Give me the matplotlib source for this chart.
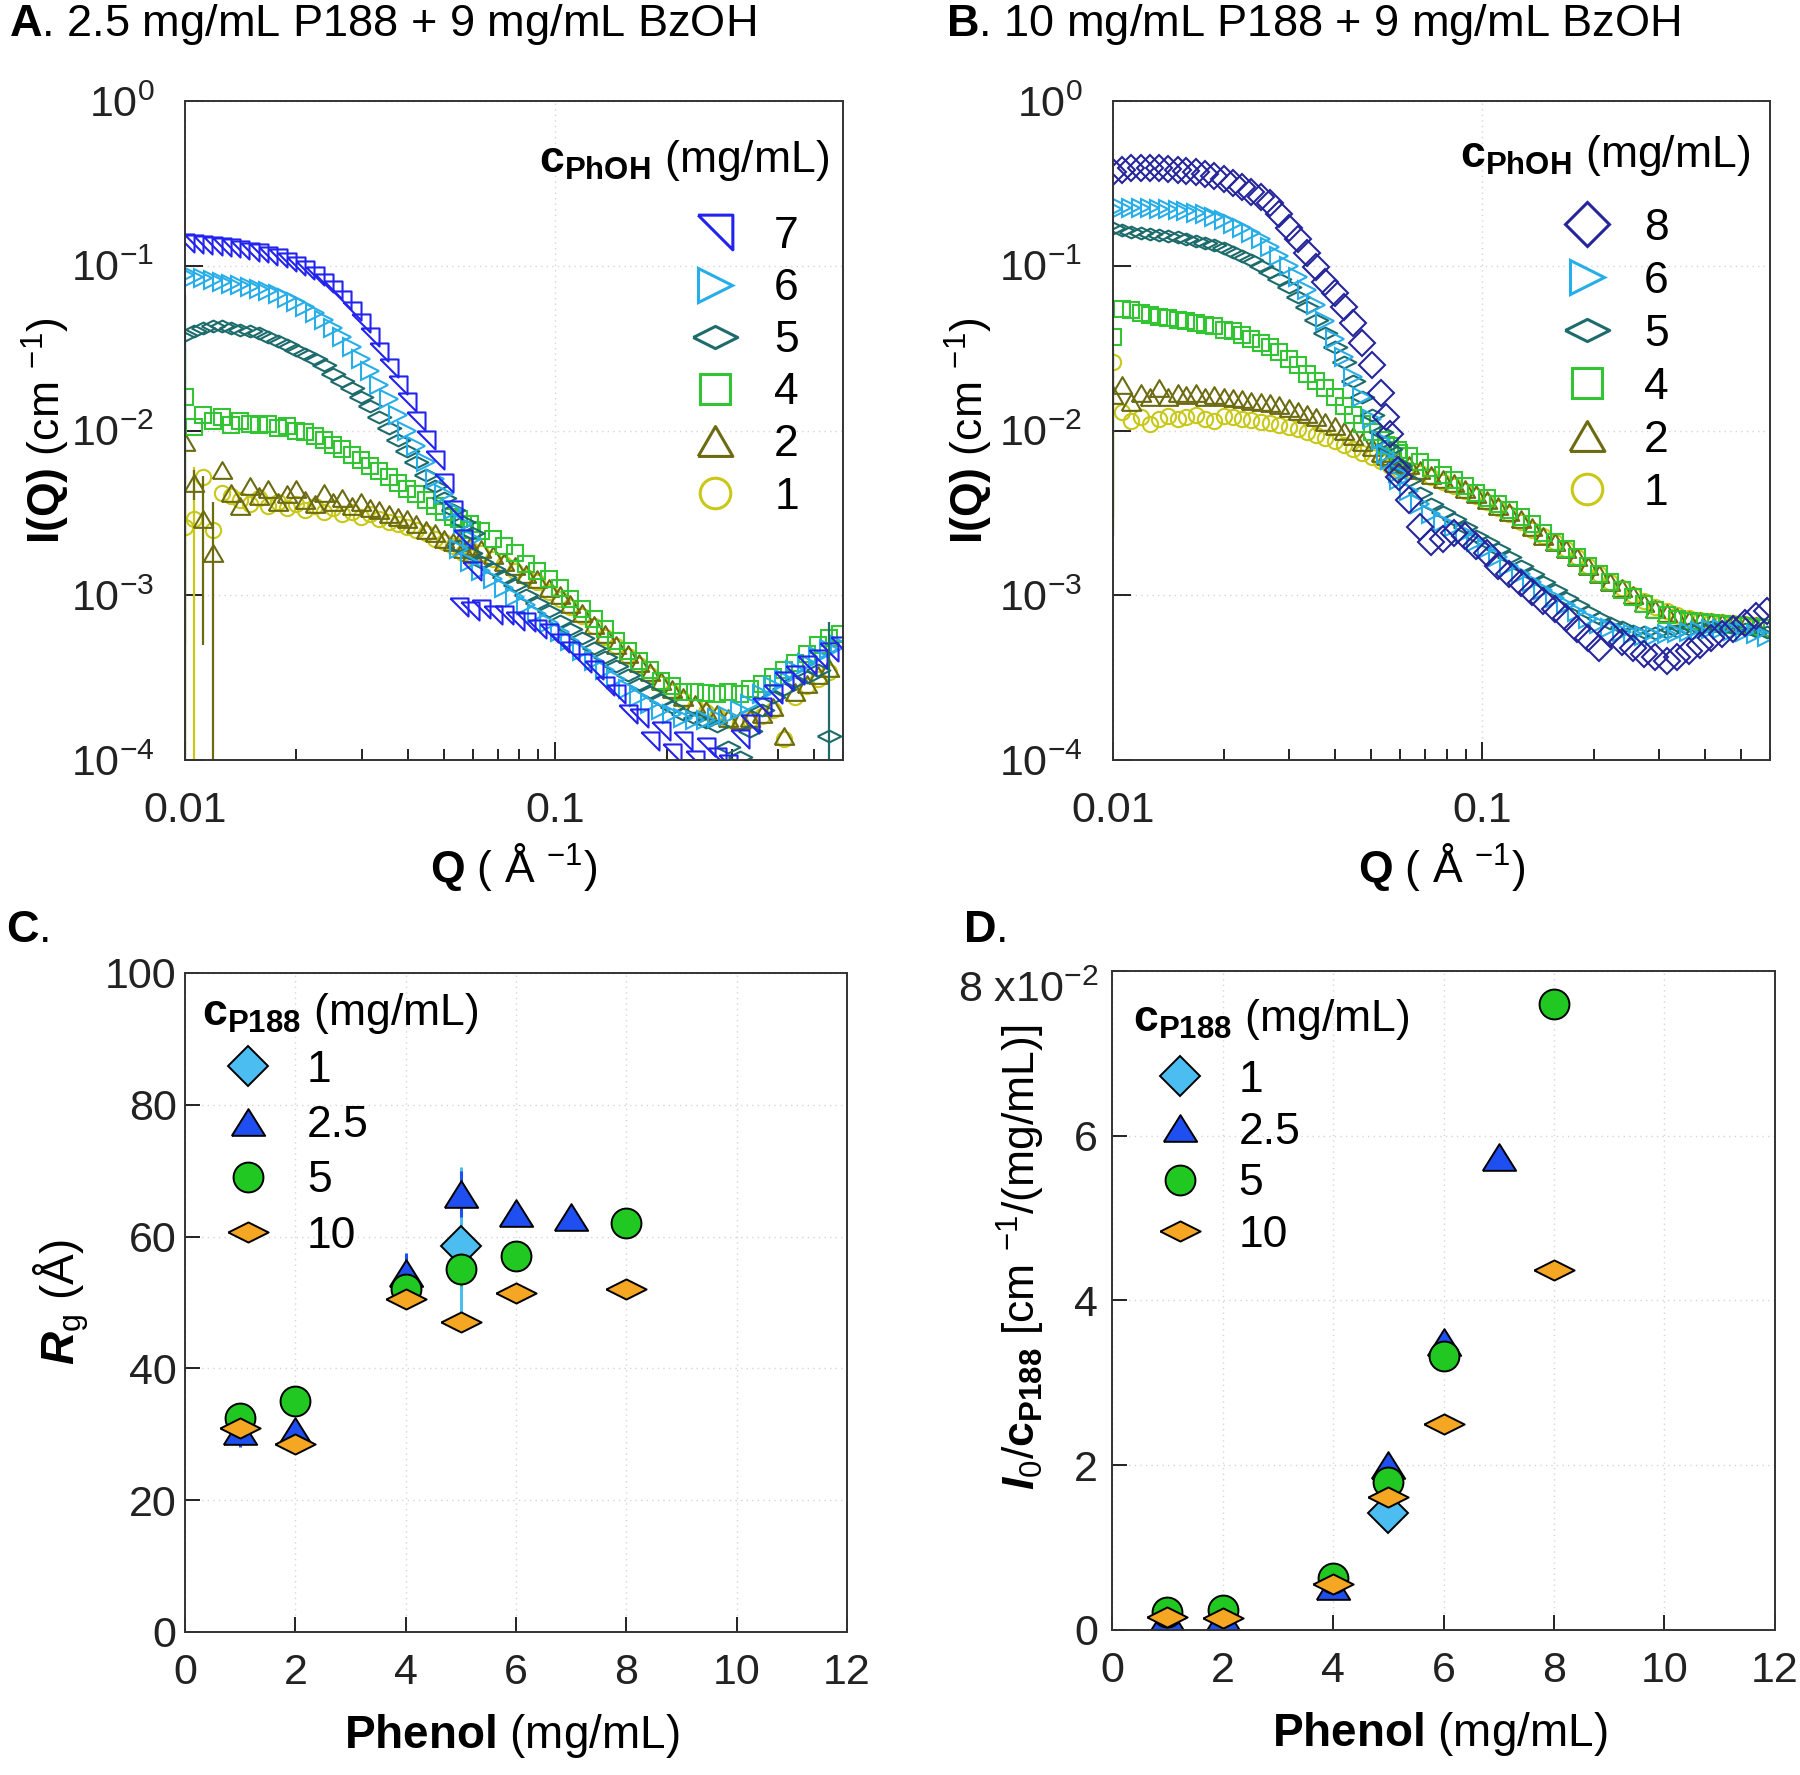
import numpy as np
import matplotlib
matplotlib.use('Agg')
import matplotlib.pyplot as plt
from matplotlib.lines import Line2D
from matplotlib.ticker import FixedLocator, FixedFormatter, NullLocator, LogLocator, NullFormatter

plt.rcParams['font.family'] = 'Liberation Sans'
plt.rcParams['mathtext.fontset'] = 'custom'
plt.rcParams['mathtext.rm'] = 'Liberation Sans'
plt.rcParams['mathtext.it'] = 'Liberation Sans:italic'
plt.rcParams['mathtext.bf'] = 'Liberation Sans:bold'
try:
    plt.rcParams['mathtext.bfit'] = 'Liberation Sans:italic:bold'
except KeyError:
    pass

# ---- SANS data ----
Q_LO = [0.0100, 0.0106, 0.0112, 0.0119, 0.0126, 0.0133, 0.0141, 0.0150, 0.0158, 0.0168,
        0.0178, 0.0188, 0.0200, 0.0211, 0.0224, 0.0237, 0.0251, 0.0266, 0.0282, 0.0299,
        0.0316, 0.0335, 0.0355, 0.0376, 0.0398, 0.0422, 0.0447, 0.0473, 0.0501, 0.0531,
        0.0562, 0.0596]
Q_HI = [0.0550, 0.0590, 0.0632, 0.0678, 0.0727, 0.0780, 0.0836, 0.0896, 0.0961, 0.1030,
        0.1100, 0.1180, 0.1270, 0.1360, 0.1460, 0.1570, 0.1680, 0.1800, 0.1930, 0.2070,
        0.2220, 0.2380, 0.2550, 0.2740, 0.2930, 0.3150, 0.3370, 0.3620, 0.3880, 0.4160,
        0.4460, 0.4780, 0.5130, 0.5500, 0.5900]
nan = np.nan

# panel A: 2.5 mg/mL P188
a7_lo = [0.138, 0.136, 0.134, 0.132, 0.130, 0.128, 0.125, 0.122, 0.119, 0.115, 0.111, 0.106,
         0.100, 0.094, 0.087, 0.079, 0.071, 0.062, 0.053, 0.045, 0.037, 0.030, 0.024, 0.019,
         0.015, 0.0115, 0.0088, 0.0066, 0.0048, 0.0033, 0.0022, 0.0014]
a7_hi = [8.5e-4, 8.0e-4, 8.2e-4, 7.6e-4, 7.6e-4, 7.0e-4, 6.9e-4, 6.2e-4, 5.9e-4, 5.1e-4,
         4.6e-4, 3.9e-4, 3.5e-4, 2.8e-4, 2.5e-4, 1.9e-4, 1.8e-4, 1.3e-4, 1.5e-4, 1.1e-4,
         1.3e-4, 1.0e-4, 1.2e-4, 1.05e-4, 0.95e-4, 1.35e-4, 1.65e-4, 2.1e-4, 2.5e-4, 3.0e-4,
         3.3e-4, 3.8e-4, 4.1e-4, 4.5e-4, 4.9e-4]
a6_lo = [0.088, 0.086, 0.084, 0.082, 0.080, 0.078, 0.076, 0.074, 0.072, 0.070, 0.067, 0.064,
         0.060, 0.056, 0.052, 0.047, 0.042, 0.037, 0.032, 0.027, 0.023, 0.019, 0.0155, 0.0125,
         0.0100, 0.0080, 0.0064, 0.0051, 0.0041, 0.0033, 0.0027, 0.0022]
a6_hi = [1.9e-3, 1.6e-3, 1.4e-3, 1.25e-3, 1.1e-3, 9.8e-4, 8.7e-4, 7.7e-4, 6.8e-4, 6.0e-4,
         5.3e-4, 4.6e-4, 4.0e-4, 3.5e-4, 3.1e-4, 2.7e-4, 2.4e-4, 2.2e-4, 2.0e-4, 1.9e-4,
         1.8e-4, 1.75e-4, 1.75e-4, 1.8e-4, 1.85e-4, 2.0e-4, 2.2e-4, 2.5e-4, 2.8e-4, 3.1e-4,
         3.5e-4, 3.9e-4, 4.3e-4, 4.7e-4, 5.0e-4]
a5_lo = [0.038, 0.040, 0.042, 0.043, 0.043, 0.042, 0.041, 0.040, 0.039, 0.037, 0.035, 0.033,
         0.031, 0.029, 0.027, 0.025, 0.022, 0.020, 0.018, 0.016, 0.014, 0.012, 0.0103, 0.0088,
         0.0075, 0.0064, 0.0054, 0.0046, 0.0039, 0.0033, 0.0028, 0.0024]
a5_hi = [2.0e-3, 1.8e-3, 1.6e-3, 1.45e-3, 1.3e-3, 1.15e-3, 1.0e-3, 9.0e-4, 8.0e-4, 7.0e-4,
         6.2e-4, 5.5e-4, 4.8e-4, 4.2e-4, 3.7e-4, 3.3e-4, 2.9e-4, 2.6e-4, 2.3e-4, 2.1e-4,
         1.9e-4, 1.8e-4, 1.7e-4, 1.6e-4, 1.2e-4, 1.05e-4, 1.5e-4, 2.0e-4, 2.4e-4, 2.7e-4,
         3.0e-4, 3.2e-4, 3.5e-4, 1.4e-4, nan]
a4_lo = [0.016, 0.0105, 0.0125, 0.0115, 0.0120, 0.0108, 0.0115, 0.0110, 0.0108, 0.0110,
         0.0104, 0.0106, 0.0100, 0.0098, 0.0092, 0.0088, 0.0082, 0.0077, 0.0071, 0.0066,
         0.0061, 0.0057, 0.0052, 0.0048, 0.0044, 0.0041, 0.0038, 0.0035, 0.0032, 0.0030,
         0.0027, 0.0025]
a4_hi = [2.9e-3, 2.7e-3, 2.45e-3, 2.2e-3, 2.0e-3, 1.8e-3, 1.55e-3, 1.4e-3, 1.25e-3, 1.1e-3,
         9.5e-4, 8.3e-4, 7.2e-4, 6.2e-4, 5.3e-4, 4.6e-4, 4.0e-4, 3.5e-4, 3.0e-4, 2.8e-4,
         2.6e-4, 2.6e-4, 2.55e-4, 2.5e-4, 2.6e-4, 2.5e-4, 2.7e-4, 2.9e-4, 3.2e-4, 3.5e-4,
         3.9e-4, 4.4e-4, 5.0e-4, 5.5e-4, 5.8e-4]
a2_lo = [0.0085, 0.0048, 0.0029, 0.0018, 0.0058, 0.0042, 0.0035, 0.0046, 0.0040, 0.0044,
         0.0037, 0.0041, 0.0044, 0.0038, 0.0036, 0.0042, 0.0037, 0.0039, 0.0035, 0.0037,
         0.0034, 0.0033, 0.0031, 0.0030, 0.0029, 0.0027, 0.0025, 0.0024, 0.0022, 0.0021,
         0.0019, 0.0018]
a2_hi = [2.1e-3, 2.0e-3, 1.9e-3, 1.75e-3, 1.6e-3, 1.5e-3, 1.35e-3, 1.25e-3, 1.1e-3, 1.0e-3,
         8.8e-4, 7.8e-4, 6.6e-4, 5.8e-4, 5.0e-4, 4.4e-4, 3.9e-4, 3.4e-4, 3.0e-4, 2.7e-4,
         2.4e-4, 2.2e-4, 2.0e-4, 1.9e-4, 1.8e-4, 1.75e-4, 1.8e-4, 1.9e-4, 2.1e-4, 1.4e-4,
         2.6e-4, 2.9e-4, 3.3e-4, 3.6e-4, nan]
a1_lo = [0.0026, 0.0029, 0.0052, 0.0025, 0.0042, 0.0040, 0.0038, 0.0036, 0.0039, 0.0035,
         0.0037, 0.0034, 0.0036, 0.0033, 0.0035, 0.0032, 0.0034, 0.0031, 0.0032, 0.0030,
         0.0031, 0.0029, 0.0028, 0.0027, 0.0026, 0.0025, 0.0024, 0.0022, 0.0021, 0.0020,
         0.0018, 0.0017]
a1_hi = [2.0e-3, 1.9e-3, 1.8e-3, 1.65e-3, 1.55e-3, 1.4e-3, 1.3e-3, 1.2e-3, 1.05e-3, 9.5e-4,
         8.5e-4, 7.5e-4, 6.5e-4, 5.6e-4, 4.9e-4, 4.3e-4, 3.8e-4, 3.3e-4, 2.9e-4, 2.6e-4,
         2.3e-4, 2.1e-4, 1.95e-4, 1.85e-4, 1.75e-4, 1.7e-4, 1.75e-4, 1.85e-4, 2.0e-4, 1.35e-4,
         2.4e-4, 2.8e-4, 3.1e-4, 3.4e-4, nan]
# error bars on the first low-Q points
a5_err = [0.028]
a4_err = [0.0155]
a2_err = [0.0095, 0.0010, 0.0024, 0.0019]
a1_err = [0.0028, 0.0031]

# panel B: 10 mg/mL P188
b8_lo = [0.37, 0.38, 0.39, 0.39, 0.39, 0.39, 0.385, 0.38, 0.375, 0.37, 0.36, 0.35, 0.335,
         0.32, 0.30, 0.28, 0.26, 0.24, 0.205, 0.17, 0.145, 0.12, 0.098, 0.080, 0.068, 0.056,
         0.045, 0.034, 0.025, 0.017, 0.0095, 0.0052]
b8_hi = [0.012, 0.0058, 0.0038, 0.0026, 0.0021, 0.0022, 0.0024, 0.0023, 0.0020, 0.0018,
         0.0015, 0.00135, 0.00118, 0.00105, 9.2e-4, 8.2e-4, 7.3e-4, 6.2e-4, 5.5e-4, 4.8e-4,
         5.8e-4, 5.2e-4, 4.8e-4, 4.4e-4, 4.2e-4, 4.0e-4, 4.2e-4, 4.6e-4, 5.0e-4, 5.5e-4,
         5.8e-4, 6.2e-4, 6.8e-4, 7.5e-4, 8.0e-4]
b6_lo = [0.22, 0.225, 0.225, 0.225, 0.225, 0.222, 0.22, 0.218, 0.215, 0.21, 0.205, 0.198,
         0.19, 0.18, 0.17, 0.158, 0.145, 0.13, 0.115, 0.10, 0.085, 0.071, 0.058, 0.046, 0.036,
         0.028, 0.021, 0.016, 0.0118, 0.0088, 0.0066, 0.0050]
b6_hi = [0.0072, 0.0055, 0.0043, 0.0036, 0.0031, 0.0028, 0.0026, 0.0024, 0.0021, 0.0019,
         0.0017, 0.0015, 0.00135, 0.0012, 0.00108, 9.6e-4, 8.7e-4, 7.9e-4, 7.2e-4, 6.7e-4,
         6.3e-4, 6.0e-4, 5.8e-4, 5.7e-4, 5.7e-4, 5.8e-4, 5.9e-4, 6.0e-4, 6.1e-4, 6.2e-4,
         6.2e-4, 6.1e-4, 6.0e-4, 5.8e-4, 5.6e-4]
b5_lo = [0.17, 0.165, 0.16, 0.158, 0.156, 0.154, 0.152, 0.149, 0.146, 0.142, 0.138, 0.133,
         0.128, 0.122, 0.115, 0.108, 0.100, 0.092, 0.083, 0.074, 0.065, 0.056, 0.047, 0.039,
         0.032, 0.026, 0.020, 0.016, 0.0125, 0.0098, 0.0077, 0.0061]
b5_hi = [0.0080, 0.0063, 0.0050, 0.0042, 0.0036, 0.0032, 0.0029, 0.0026, 0.0023, 0.0021,
         0.0019, 0.0017, 0.0015, 0.00135, 0.0012, 0.00107, 9.6e-4, 8.7e-4, 7.9e-4, 7.3e-4,
         6.8e-4, 6.4e-4, 6.1e-4, 6.0e-4, 5.9e-4, 6.0e-4, 6.1e-4, 6.2e-4, 6.3e-4, 6.4e-4,
         6.4e-4, 6.3e-4, 6.2e-4, 6.1e-4, 6.0e-4]
b4_lo = [0.037, 0.055, 0.054, 0.052, 0.050, 0.049, 0.048, 0.047, 0.046, 0.045, 0.044, 0.043,
         0.041, 0.040, 0.038, 0.036, 0.034, 0.032, 0.030, 0.027, 0.025, 0.022, 0.020, 0.018,
         0.016, 0.014, 0.0125, 0.011, 0.0098, 0.0088, 0.0080, 0.0073]
b4_hi = [0.0082, 0.0076, 0.0070, 0.0064, 0.0059, 0.0054, 0.0050, 0.0046, 0.0042, 0.0039,
         0.0036, 0.0033, 0.0030, 0.0027, 0.0024, 0.0021, 0.0019, 0.0017, 0.0015, 0.00135,
         0.0012, 0.00108, 9.8e-4, 8.8e-4, 8.1e-4, 7.6e-4, 7.2e-4, 7.0e-4, 6.9e-4, 6.8e-4,
         6.7e-4, 6.6e-4, 6.5e-4, 6.4e-4, 6.3e-4]
b2_lo = [0.0165, 0.019, 0.015, 0.017, 0.016, 0.018, 0.016, 0.017, 0.0165, 0.017, 0.016,
         0.0165, 0.016, 0.0158, 0.0155, 0.0152, 0.015, 0.0146, 0.0142, 0.0137, 0.0132, 0.0126,
         0.012, 0.0113, 0.0106, 0.0099, 0.0092, 0.0085, 0.0079, 0.0073, 0.0068, 0.0063]
b2_hi = [0.0070, 0.0066, 0.0062, 0.0058, 0.0054, 0.0051, 0.0048, 0.0044, 0.0041, 0.0038,
         0.0035, 0.0032, 0.0029, 0.0026, 0.0023, 0.0021, 0.0019, 0.0017, 0.0015, 0.00135,
         0.0012, 0.0011, 1.0e-3, 9.0e-4, 8.3e-4, 7.8e-4, 7.4e-4, 7.1e-4, 7.0e-4, 6.9e-4,
         6.8e-4, 6.7e-4, 6.6e-4, 6.5e-4, nan]
b1_lo = [0.026, 0.013, 0.0115, 0.012, 0.011, 0.0118, 0.0122, 0.0118, 0.012, 0.0124, 0.0118,
         0.0115, 0.0122, 0.012, 0.0118, 0.0116, 0.0113, 0.0111, 0.0108, 0.0105, 0.0102, 0.0098,
         0.0094, 0.0090, 0.0086, 0.0082, 0.0077, 0.0073, 0.0069, 0.0065, 0.0061, 0.0058]
b1_hi = [0.0064, 0.0061, 0.0058, 0.0055, 0.0052, 0.0049, 0.0046, 0.0043, 0.0040, 0.0037,
         0.0034, 0.0031, 0.0028, 0.0025, 0.0023, 0.0021, 0.0019, 0.0017, 0.0015, 0.00135,
         0.0012, 0.0011, 1.0e-3, 9.2e-4, 8.5e-4, 8.0e-4, 7.6e-4, 7.3e-4, 7.1e-4, 7.0e-4,
         6.9e-4, 6.8e-4, 6.7e-4, 6.6e-4, nan]
b2_err = [0.0142]
b1_err = [0.023]

# ---- Guinier results ----
ph_1 = [5]
ph_25 = [1, 2, 4, 5, 6, 7]
ph_5 = [1, 2, 4, 5, 6, 8]
ph_10 = [1, 2, 4, 5, 6, 8]
rg_1 = [58.5]
rg_25 = [30.5, 30.5, 54.5, 66.5, 63.5, 63.0]
rg_5 = [32.5, 35.0, 52.0, 55.0, 57.0, 62.0]
rg_10 = [31.0, 28.5, 50.5, 47.0, 51.5, 52.0]
rg_1_err = [12.0]
rg_25_err = [2.5, 1.0, 3.0, 3.5, 1.0, 1.0]
rg_5_err = [1.0, 1.0, 1.0, 2.5, 1.0, 1.0]
i0_1 = [0.0142]
i0_25 = [0.0016, 0.0016, 0.0053, 0.0200, 0.0350, 0.0574]
i0_5 = [0.0022, 0.0024, 0.0063, 0.0180, 0.0332, 0.0760]
i0_10 = [0.0016, 0.0014, 0.0056, 0.0162, 0.0250, 0.0437]

# ---- styles ----
WIDE_DIAMOND = [(-1, 0), (0, 0.5), (1, 0), (0, -0.5), (-1, 0)]
FLAT_TRI = [(-1, -0.8), (1, -0.8), (0, 0.8), (-1, -0.8)]
EQ_TRI = [(-1, -0.86), (1, -0.86), (0, 0.86), (-1, -0.86)]
CORNER_TRI = [(-1, 1), (1, 1), (1, -1), (-1, 1)]
C_BLUE = '#2323f0'
C_NAVY = '#25259c'
C_LBLUE = '#27aee8'
C_TEAL = '#1d6b6b'
C_GREEN = '#33c433'
C_OLIVE = '#6d6b12'
C_YELLOW = '#c9c817'
GRID = dict(color='#d6d6d6', ls=(0, (1, 3)), lw=1.0)
LEG_FS = 32

fig = plt.figure(figsize=(18, 17.75), dpi=100)
axA = fig.add_axes([0.1028, 0.5718, 0.3656, 0.3713])
axB = fig.add_axes([0.6183, 0.5718, 0.3650, 0.3713])
axC = fig.add_axes([0.1028, 0.0806, 0.3678, 0.3713])
axD = fig.add_axes([0.6178, 0.0817, 0.3683, 0.3713])


def style_frame(ax):
    for s in ax.spines.values():
        s.set_linewidth(1.4)
        s.set_color('#333333')
    ax.set_axisbelow(True)
    ax.grid(True, which='major', **GRID)


def setup_sas(ax):
    ax.set_xscale('log')
    ax.set_yscale('log')
    ax.set_xlim(0.01, 0.6)
    ax.set_ylim(1e-4, 1)
    ax.xaxis.set_major_locator(FixedLocator([0.01, 0.1]))
    ax.xaxis.set_major_formatter(FixedFormatter(['0.01', '0.1']))
    ax.xaxis.set_minor_locator(LogLocator(base=10, subs=np.arange(2, 10)))
    ax.xaxis.set_minor_formatter(NullFormatter())
    ax.yaxis.set_major_locator(FixedLocator([1e-4, 1e-3, 1e-2, 1e-1, 1]))
    ax.yaxis.set_minor_locator(NullLocator())
    ax.tick_params(which='both', direction='in', top=False, right=False, width=1.4,
                   labelsize=31, colors='#222222')
    ax.tick_params(which='major', length=13)
    ax.tick_params(which='minor', length=8)
    ax.tick_params(axis='x', pad=22)
    ax.tick_params(axis='y', pad=22)
    style_frame(ax)
    ax.set_xlabel(r'$\mathbf{Q}$ ( Å $^{-1}$)', fontsize=32)
    ax.set_ylabel(r'$\mathbf{I(Q)}$ (cm $^{-1}$)', fontsize=32)
    ax.xaxis.set_label_coords(0.5, -0.123)


def plot_sas(ax, series):
    # series listed in legend order; draw reversed so the top entry lands on top
    for label, color, marker, ms, lms, lo, hi, err in reversed(series):
        ax.plot(Q_LO + Q_HI, lo + hi, ls='none', marker=marker, ms=ms, mfc='none',
                mec=color, mew=1.5)
        if err:
            ax.errorbar(Q_LO[:len(err)], lo[:len(err)], yerr=err, fmt='none',
                        ecolor=color, elinewidth=1.6, capsize=0)
    return [Line2D([], [], ls='none', marker=s[2], ms=s[4], mfc='none', mec=s[1], mew=2.2)
            for s in series]


# ---- A ----
setup_sas(axA)
series_a = [
    ('7', C_BLUE, CORNER_TRI, 13, 25, a7_lo, a7_hi, None),
    ('6', C_LBLUE, '>', 13, 24, a6_lo, a6_hi, None),
    ('5', C_TEAL, WIDE_DIAMOND, 17, 32, a5_lo, a5_hi, a5_err),
    ('4', C_GREEN, 's', 11.5, 22, a4_lo, a4_hi, a4_err),
    ('2', C_OLIVE, EQ_TRI, 14, 25, a2_lo, a2_hi, a2_err),
    ('1', C_YELLOW, 'o', 11, 22, a1_lo, a1_hi, a1_err),
]
h = plot_sas(axA, series_a)
axA.errorbar([Q_HI[33]], [a5_hi[33]], yerr=[5.5e-4], fmt='none', ecolor=C_TEAL,
             elinewidth=1.6, capsize=0)
axA.legend(h, [s[0] for s in series_a], loc='upper left', bbox_to_anchor=(0.765, 0.8255),
           frameon=False, fontsize=LEG_FS, borderpad=0, borderaxespad=0, handlelength=1.2,
           handletextpad=0.73, labelspacing=0.25)
axA.text(0.538, 0.892, r'$\mathbf{c}_{\mathbf{PhOH}}$ (mg/mL)', transform=axA.transAxes,
         fontsize=32, va='baseline', ha='left')
axA.yaxis.set_label_coords(-0.172, 0.5)

# ---- B ----
setup_sas(axB)
series_b = [
    ('8', C_NAVY, 'D', 13, 22, b8_lo, b8_hi, None),
    ('6', C_LBLUE, '>', 13, 24, b6_lo, b6_hi, None),
    ('5', C_TEAL, WIDE_DIAMOND, 17, 32, b5_lo, b5_hi, None),
    ('4', C_GREEN, 's', 11.5, 22, b4_lo, b4_hi, None),
    ('2', C_OLIVE, EQ_TRI, 14, 25, b2_lo, b2_hi, b2_err),
    ('1', C_YELLOW, 'o', 11, 22, b1_lo, b1_hi, b1_err),
]
h = plot_sas(axB, series_b)
axB.legend(h, [s[0] for s in series_b], loc='upper left', bbox_to_anchor=(0.681, 0.838),
           frameon=False, fontsize=LEG_FS, borderpad=0, borderaxespad=0, handlelength=1.2,
           handletextpad=0.68, labelspacing=0.27)
axB.text(0.528, 0.9, r'$\mathbf{c}_{\mathbf{PhOH}}$ (mg/mL)', transform=axB.transAxes,
         fontsize=32, va='baseline', ha='left')
axB.yaxis.set_label_coords(-0.18, 0.5)


# ---- C and D ----
def setup_lin(ax, xpad, ypad):
    ax.set_xlim(0, 12)
    ax.set_xticks(range(0, 13, 2))
    ax.tick_params(which='both', direction='in', top=False, right=False, width=1.4,
                   length=11, labelsize=31, colors='#222222')
    ax.tick_params(axis='x', pad=xpad)
    ax.tick_params(axis='y', pad=ypad)
    style_frame(ax)
    ax.set_xlabel(r'$\mathbf{Phenol}$ (mg/mL)', fontsize=33)


def plot_pts(ax, x, y, color, marker, ms, err=None):
    if err is not None:
        ax.errorbar(x, y, yerr=err, fmt='none', ecolor=color, elinewidth=2.2, capsize=0)
    ax.plot(x, y, ls='none', marker=marker, ms=ms, mfc=color, mec='black', mew=1.4)


C_P1 = '#4cbdf0'
C_P25 = '#1f4ff0'
C_P5 = '#22c822'
C_P10 = '#f5a623'
MS_P1, MS_P25, MS_P5, MS_P10 = 20, 24, 21.5, 29

setup_lin(axC, 15, 6)
axC.set_ylim(0, 100)
axC.set_yticks(range(0, 101, 20))
plot_pts(axC, ph_1, rg_1, C_P1, 'D', MS_P1, rg_1_err)
plot_pts(axC, ph_25, rg_25, C_P25, FLAT_TRI, MS_P25, rg_25_err)
plot_pts(axC, ph_5, rg_5, C_P5, 'o', MS_P5, rg_5_err)
plot_pts(axC, ph_10, rg_10, C_P10, WIDE_DIAMOND, MS_P10)
axC.set_ylabel(r'$\mathbfit{R}_{\mathrm{g}}$ (Å)', fontsize=33)
axC.yaxis.set_label_coords(-0.142, 0.5)
axC.xaxis.set_label_coords(0.494, -0.121)

setup_lin(axD, 15, 10)
axD.set_ylim(0, 0.08)
axD.yaxis.set_major_locator(FixedLocator([0, 0.02, 0.04, 0.06, 0.08]))
axD.yaxis.set_major_formatter(FixedFormatter(['0', '2', '4', '6', r'8 x10$^{-2}$']))
# the top label with its exponent hangs below the top tick
axD.yaxis.get_major_ticks()[-1].label1.set_verticalalignment('top')
plot_pts(axD, ph_1, i0_1, C_P1, 'D', MS_P1)
plot_pts(axD, ph_25, i0_25, C_P25, FLAT_TRI, MS_P25)
plot_pts(axD, ph_5, i0_5, C_P5, 'o', MS_P5)
plot_pts(axD, ph_10, i0_10, C_P10, WIDE_DIAMOND, MS_P10)
axD.set_ylabel(r'$\mathbfit{I}_{\mathrm{0}}$/$\mathbf{c}_{\mathbf{P188}}$ [cm $^{-1}$/(mg/mL)]',
               fontsize=32)
axD.yaxis.set_label_coords(-0.098, 0.565)
axD.xaxis.set_label_coords(0.494, -0.121)

for ax, hx, hy, lx, ly, lsp in [(axC, 0.026, 0.921, 0.055, 0.883, 0.32),
                                (axD, 0.032, 0.909, 0.0624, 0.865, 0.24)]:
    hdl = [Line2D([], [], ls='none', marker='D', ms=MS_P1, mfc=C_P1, mec='black', mew=1.4),
           Line2D([], [], ls='none', marker=FLAT_TRI, ms=MS_P25, mfc=C_P25, mec='black', mew=1.4),
           Line2D([], [], ls='none', marker='o', ms=MS_P5, mfc=C_P5, mec='black', mew=1.4),
           Line2D([], [], ls='none', marker=WIDE_DIAMOND, ms=MS_P10, mfc=C_P10, mec='black', mew=1.4)]
    ax.legend(hdl, ['1', '2.5', '5', '10'], loc='upper left', bbox_to_anchor=(lx, ly),
              frameon=False, fontsize=LEG_FS, borderpad=0, borderaxespad=0, handlelength=1.2,
              handletextpad=0.72, labelspacing=lsp)
    ax.text(hx, hy, r'$\mathbf{c}_{\mathbf{P188}}$ (mg/mL)', transform=ax.transAxes,
            fontsize=32, va='baseline', ha='left')

# panel titles
fig.text(0.005, 0.9797, r'$\mathbf{A}$. 2.5 mg/mL P188 + 9 mg/mL BzOH', fontsize=32.5, va='baseline')
fig.text(0.5256, 0.9797, r'$\mathbf{B}$. 10 mg/mL P188 + 9 mg/mL BzOH', fontsize=32.5, va='baseline')
fig.text(0.0033, 0.4692, r'$\mathbf{C}$.', fontsize=32.5, va='baseline')
fig.text(0.535, 0.4692, r'$\mathbf{D}$.', fontsize=32.5, va='baseline')

fig.savefig('out.png', dpi=100)
